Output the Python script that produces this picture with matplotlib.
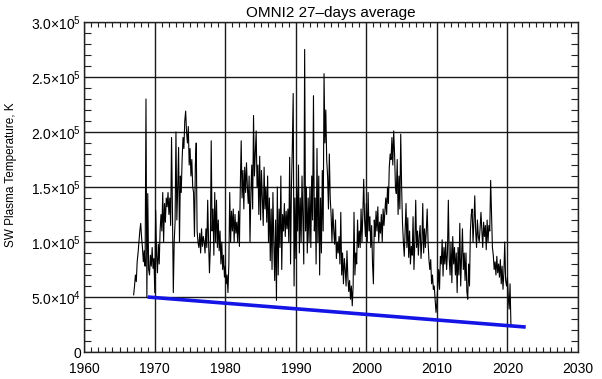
import numpy as np
import matplotlib
matplotlib.use("Agg")
import matplotlib.pyplot as plt
from matplotlib.ticker import MultipleLocator, FuncFormatter

# 27-day averaged SW temperature in units of 1e3 K
# 8 samples per year, starting 1967.0
temp_kK = [
    52, 60, 70, 64, 82, 90, 100, 110,      # 1967
    117, 104, 95, 82, 92, 78, 230, 50,     # 1968
    144, 75, 70, 88, 78, 95, 76, 85,       # 1969
    54, 129, 88, 72, 98, 80, 110, 125,     # 1970
    110, 145, 100, 135, 118, 140, 132, 145,  # 1971
    125, 140, 115, 195, 130, 54, 100, 118,   # 1972
    200, 120, 150, 186, 100, 160, 145, 175,  # 1973
    195, 185, 210, 219, 200, 190, 205, 170,  # 1974
    185, 160, 175, 150, 145, 105, 170, 190,  # 1975
    110, 100, 95, 108, 90, 112, 96, 105,     # 1976
    100, 90, 112, 95, 138, 100, 72, 95,      # 1977
    192, 110, 130, 88, 145, 100, 138, 95,    # 1978
    120, 92, 110, 80, 100, 75, 88, 68,       # 1979
    78, 62, 70, 54, 80, 145, 100, 128,       # 1980
    110, 130, 100, 125, 108, 118, 100, 128,  # 1981
    96, 150, 192, 140, 165, 130, 168, 145,   # 1982
    172, 150, 135, 160, 100, 145, 170, 130,  # 1983
    215, 160, 180, 201, 150, 170, 125, 178,  # 1984
    120, 165, 140, 115, 168, 130, 150, 118,  # 1985
    160, 100, 140, 83, 130, 75, 145, 100,    # 1986
    65, 120, 47, 150, 70, 130, 95, 160,      # 1987
    75, 125, 110, 135, 105, 128, 112, 130,   # 1988
    100, 177, 80, 150, 186, 235, 60, 140,    # 1989
    85, 150, 110, 170, 90, 140, 100, 160,    # 1990
    120, 80, 275, 110, 150, 90, 140, 100,    # 1991
    150, 95, 160, 120, 233, 110, 140, 80,    # 1992
    185, 100, 160, 70, 140, 90, 165, 110,    # 1993
    253, 190, 220, 175, 160, 130, 180, 140,  # 1994
    125, 100, 130, 110, 98, 120, 85, 100,    # 1995
    90, 105, 80, 127, 70, 90, 62, 85,        # 1996
    75, 60, 92, 68, 55, 65, 48, 60,          # 1997
    42, 60, 127, 70, 90, 80, 120, 95,        # 1998
    110, 95, 130, 100, 125, 157, 120, 105,   # 1999
    135, 100, 145, 110, 123, 95, 115, 80,    # 2000
    62, 120, 105, 128, 110, 132, 100, 118,   # 2001
    108, 125, 100, 130, 115, 128, 140, 125,  # 2002
    150, 135, 168, 180, 175, 195, 170, 201,  # 2003
    180, 150, 144, 175, 125, 160, 130, 198,  # 2004
    150, 117, 100, 87, 110, 135, 95, 122,    # 2005
    86, 110, 80, 96, 88, 123, 75, 100,       # 2006
    138, 95, 110, 88, 105, 115, 85, 100,     # 2007
    135, 90, 112, 95, 110, 130, 100, 84,     # 2008
    75, 84, 62, 70, 57, 60, 48, 36,          # 2009
    45, 60, 75, 57, 87, 80, 102, 69,         # 2010
    95, 80, 100, 75, 90, 138, 85, 70,        # 2011
    100, 63, 105, 80, 95, 70, 90, 54,        # 2012
    95, 70, 117, 60, 85, 112, 75, 90,        # 2013
    65, 90, 55, 48, 80, 60, 110, 125,        # 2014
    130, 100, 118, 142, 110, 95, 120, 105,   # 2015
    100, 112, 127, 110, 95, 118, 105, 115,   # 2016
    93, 120, 100, 115, 110, 156, 125, 95,    # 2017
    88, 75, 82, 70, 87, 72, 80, 68,          # 2018
    84, 62, 78, 57, 72, 100, 65, 60,         # 2019
    68, 50, 39, 62, 25,                      # 2020
]
start_year = 1967.0
samples_per_year = 8

# blue trend line (lower envelope)
trend_years = [1969.0, 2022.6]
trend_values = [5.0e4, 2.27e4]

years = start_year + np.arange(len(temp_kK)) / samples_per_year
temp = np.array(temp_kK) * 1e3

plt.rcParams['font.family'] = ['Liberation Sans', 'DejaVu Sans']
plt.rcParams['mathtext.default'] = 'regular'

fig = plt.figure(figsize=(6.02, 3.79), dpi=100)
ax = fig.add_axes([0.140, 0.0712, 0.820, 0.8708])

ax.plot(years, temp, color='black', lw=0.8, zorder=3)
ax.plot(trend_years, trend_values, color='#1414e6', lw=2.6, zorder=4,
        solid_capstyle='butt')

ax.set_xlim(1960, 2030)
ax.set_ylim(0, 3.0e5)
ax.xaxis.set_major_locator(MultipleLocator(10))
ax.xaxis.set_minor_locator(MultipleLocator(1))
ax.yaxis.set_major_locator(MultipleLocator(5e4))
ax.yaxis.set_minor_locator(MultipleLocator(1e4))


def sci_fmt(v, pos):
    if v <= 0:
        return '0'
    exp = int(np.floor(np.log10(v)))
    return r'$%.1f{\times}10^{%d}$' % (v / 10 ** exp, exp)


ax.yaxis.set_major_formatter(FuncFormatter(sci_fmt))
ax.grid(True, which='major', color='#1a1a1a', lw=1.0, zorder=1)
ax.tick_params(which='both', direction='in', top=True, right=True,
               labelsize=10, color='#222222')
ax.tick_params(axis='x', which='major', length=0, pad=7.5)
ax.tick_params(axis='y', which='major', length=0, pad=2.5)
ax.tick_params(axis='x', which='minor', length=3.6, width=0.8)
ax.tick_params(axis='y', which='minor', length=5, width=0.8)
for s in ax.spines.values():
    s.set_color('#222222')
    s.set_linewidth(1.0)

ax.set_title('OMNI2 27\u2013days average', fontsize=11, pad=3.5)
ax.set_ylabel('SW Plasma Temperature, K', fontsize=8.5)
ax.yaxis.set_label_coords(-0.136, 0.538)

fig.savefig('out.png', dpi=100)
